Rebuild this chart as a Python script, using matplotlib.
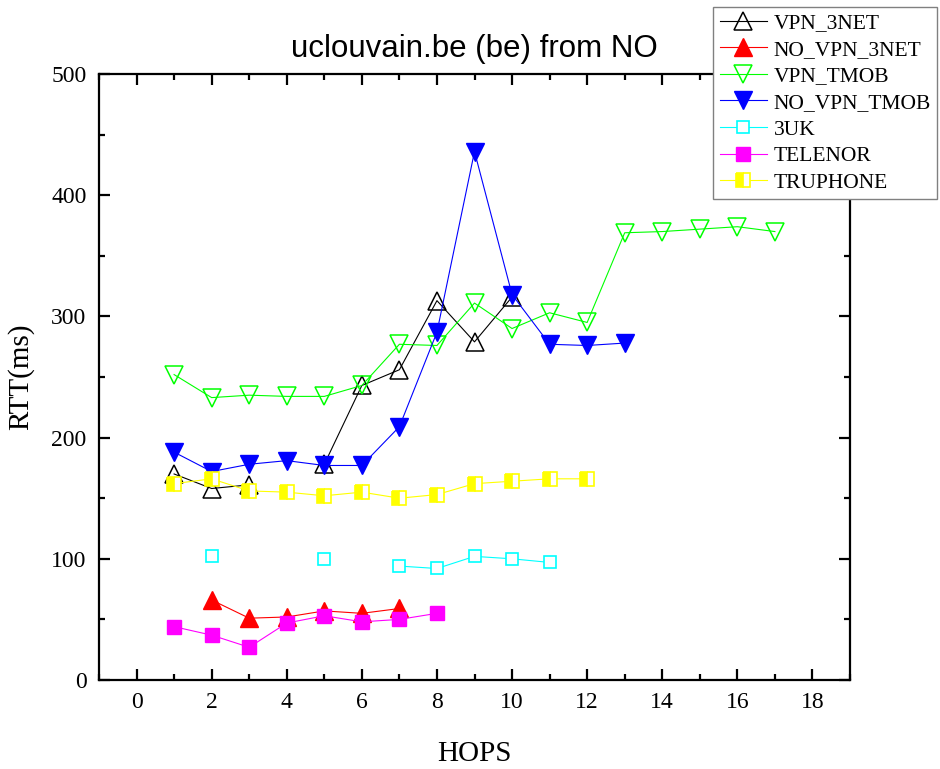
import numpy as np
import matplotlib
matplotlib.use("Agg")
import matplotlib.pyplot as plt
from matplotlib.ticker import MultipleLocator

nan = np.nan
hops = np.arange(1, 18)

vpn_3net = [170, 158, 161, nan, 178, 243, 256, 313, 279, 316] + [nan] * 7
no_vpn_3net = [nan, 66, 51, 52, 57, 55, 59] + [nan] * 10
vpn_tmob = [252, 233, 235, 234, 234, 243, 277, 276, 311, 290, 303, 295, 369, 370, 372, 374, 370]
no_vpn_tmob = [188, 172, 178, 181, 177, 177, 209, 287, 436, 318, 277, 276, 278] + [nan] * 4
uk3 = [nan, 102, nan, nan, 100, nan, 94, 92, 102, 100, 97] + [nan] * 6
telenor = [44, 37, 27, 47, 53, 48, 50, 55] + [nan] * 9
truphone = [162, 166, 156, 155, 152, 155, 150, 153, 162, 164, 166, 166] + [nan] * 5

serif = "Liberation Serif"

fig = plt.figure(figsize=(9.4, 7.69), dpi=100)
ax = fig.add_axes([99 / 940, 1 - 680 / 769, (850 - 99) / 940, (680 - 74) / 769])

lw = 0.8
ax.plot(hops, vpn_3net, color="black", lw=lw, marker="^", ms=12.5, mfc="none", mec="black", mew=1.1, label="VPN_3NET")
ax.plot(hops, no_vpn_3net, color="red", lw=lw, marker="^", ms=12.5, mfc="red", mec="red", label="NO_VPN_3NET")
ax.plot(hops, vpn_tmob, color="#00ff00", lw=lw, marker="v", ms=12.5, mfc="none", mec="#00ff00", mew=1.1, label="VPN_TMOB")
ax.plot(hops, no_vpn_tmob, color="blue", lw=lw, marker="v", ms=12.5, mfc="blue", mec="blue", label="NO_VPN_TMOB")
ax.plot(hops, uk3, color="cyan", lw=lw, marker="s", ms=9, mfc="white", mec="cyan", mew=1.2, label="3UK")
ax.plot(hops, telenor, color="magenta", lw=lw, marker="s", ms=9.5, mfc="magenta", mec="magenta", label="TELENOR")
ax.plot(hops, truphone, color="yellow", lw=lw, marker="s", ms=9.5, fillstyle="left", mfc="yellow",
        mfcalt="white", mec="yellow", mew=1.2, label="TRUPHONE")

ax.set_xlim(-1, 19)
ax.set_ylim(0, 500)
ax.xaxis.set_major_locator(MultipleLocator(2))
ax.xaxis.set_minor_locator(MultipleLocator(1))
ax.yaxis.set_major_locator(MultipleLocator(100))
ax.yaxis.set_minor_locator(MultipleLocator(50))

for s in ax.spines.values():
    s.set_linewidth(1.6)
ax.tick_params(which="both", direction="in", top=True, right=True, width=1.6)
ax.tick_params(which="major", length=8, pad=9)
ax.tick_params(which="minor", length=4)
for lab in ax.get_xticklabels() + ax.get_yticklabels():
    lab.set_fontfamily(serif)
    lab.set_fontsize(17)

ax.set_xlabel("HOPS", fontfamily=serif, fontsize=21, labelpad=20)
ax.set_ylabel("RTT(ms)", fontfamily=serif, fontsize=21, labelpad=12)
ax.set_title("uclouvain.be (be) from NO", fontfamily="Liberation Sans", fontsize=22.5, pad=12)

# legend sits over the top-right corner of the frame
leg = fig.legend(loc="upper right", bbox_to_anchor=(0.997, 0.991), borderaxespad=0,
                 prop={"family": serif, "size": 15.5}, fancybox=False, framealpha=1,
                 edgecolor="grey", handlelength=2.2, labelspacing=0.3, borderpad=0.3,
                 handletextpad=0.3)
leg.get_frame().set_linewidth(1.0)
leg.set_zorder(10)

fig.savefig("out.png", dpi=100)
